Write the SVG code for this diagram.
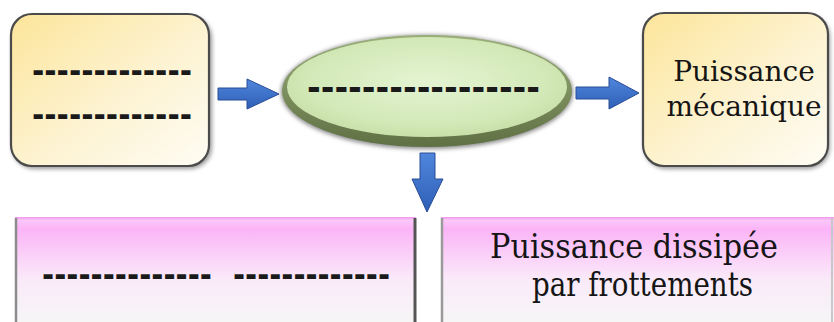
<svg xmlns="http://www.w3.org/2000/svg" width="834" height="322" viewBox="0 0 834 322">
  <style>
    text { font-family: 'DejaVu Serif', serif; }
    .lbl { fill: #151515; font-size: 33px; }
    .mid { text-anchor: middle; font-size: 28px; }
    .dash { fill: #1a1a1a; font-weight: bold; }
    .arrow { fill: url(#blue); stroke: #2a4c96; stroke-width: 1; }
    .ybox { fill: url(#cream); stroke: #4b4b4b; stroke-width: 2.2; }
    .pbox { fill: url(#pink); }
  </style>
  <defs>
    <linearGradient id="cream" x1="0" y1="0" x2="1" y2="1">
      <stop offset="0" stop-color="#fce59a"/>
      <stop offset="0.55" stop-color="#fdf3d2"/>
      <stop offset="1" stop-color="#fefcf4"/>
    </linearGradient>
    <radialGradient id="leaf" cx="0.5" cy="0.45" r="0.6">
      <stop offset="0" stop-color="#e4f4d2"/>
      <stop offset="0.7" stop-color="#d3e9b8"/>
      <stop offset="1" stop-color="#c4dca4"/>
    </radialGradient>
    <linearGradient id="rim" x1="0" y1="0" x2="0" y2="1">
      <stop offset="0" stop-color="#9aae78"/>
      <stop offset="1" stop-color="#5f7044"/>
    </linearGradient>
    <linearGradient id="blue" x1="0" y1="0" x2="0" y2="1">
      <stop offset="0" stop-color="#4f86dc"/>
      <stop offset="1" stop-color="#2f5fb6"/>
    </linearGradient>
    <linearGradient id="pink" gradientUnits="userSpaceOnUse" x1="0" y1="216" x2="0" y2="322">
      <stop offset="0" stop-color="#e88be4"/>
      <stop offset="0.04" stop-color="#fcc8fa"/>
      <stop offset="0.12" stop-color="#fbb4f7"/>
      <stop offset="0.6" stop-color="#faeaf9"/>
      <stop offset="1" stop-color="#f6f6f6"/>
    </linearGradient>
    <filter id="soft" x="-10%" y="-10%" width="120%" height="120%">
      <feGaussianBlur stdDeviation="2"/>
    </filter>
  </defs>

  <rect width="834" height="322" fill="#ffffff"/>

  <!-- source box (top left) -->
  <g id="source">
    <rect x="12" y="16" width="200" height="153" rx="22" fill="#9a9a9a" filter="url(#soft)"/>
    <rect class="ybox" x="11" y="14" width="198" height="152" rx="21"/>
    <text class="dash" x="32" y="82" font-size="36" textLength="160" lengthAdjust="spacingAndGlyphs">-------------</text>
    <text class="dash" x="32" y="126" font-size="36" textLength="160" lengthAdjust="spacingAndGlyphs">-------------</text>
  </g>

  <!-- converter (ellipse) -->
  <g id="converter">
    <ellipse cx="427" cy="92" rx="146" ry="57" fill="#8a8a8a" filter="url(#soft)"/>
    <ellipse cx="427" cy="91" rx="145" ry="56" fill="url(#rim)"/>
    <ellipse cx="427" cy="87" rx="140" ry="50" fill="url(#leaf)"/>
    <text class="dash" x="307" y="100" font-size="38" textLength="233" lengthAdjust="spacingAndGlyphs">-----------------</text>
  </g>

  <!-- output box (top right) -->
  <g id="mechanical">
    <rect x="644" y="15" width="186" height="154" rx="22" fill="#9a9a9a" filter="url(#soft)"/>
    <rect class="ybox" x="643" y="13" width="185" height="153" rx="21"/>
    <text class="lbl mid" x="744" y="81">Puissance</text>
    <text class="lbl mid" x="744" y="116">mécanique</text>
  </g>

  <!-- loss boxes (bottom) -->
  <g id="loss-blank">
    <rect class="pbox" x="15" y="217" width="401" height="110"/>
    <line x1="16" y1="218" x2="16" y2="322" stroke="#8c8c8c" stroke-width="2.5"/>
    <line x1="415" y1="218" x2="415" y2="322" stroke="#555555" stroke-width="3"/>
    <text class="dash" y="286" font-size="36"><tspan x="42" textLength="170" lengthAdjust="spacingAndGlyphs">--------------</tspan><tspan x="233" textLength="157" lengthAdjust="spacingAndGlyphs">-------------</tspan></text>
  </g>

  <g id="loss-friction">
    <rect class="pbox" x="441" y="217" width="395" height="110"/>
    <line x1="442" y1="218" x2="442" y2="322" stroke="#9a9a9a" stroke-width="2.5"/>
    <line x1="832" y1="218" x2="832" y2="322" stroke="#c8c8c8" stroke-width="2"/>
    <text class="lbl" x="490" y="258" textLength="288" lengthAdjust="spacingAndGlyphs">Puissance dissipée</text>
    <text class="lbl" x="532" y="296" textLength="221" lengthAdjust="spacingAndGlyphs">par frottements</text>
  </g>

  <!-- connectors -->
  <g id="connectors">
    <path class="arrow" d="M218,88 H247 V79 L279,94 L247,109 V100 H218 Z"/>
    <path class="arrow" d="M576,87 H609 V77 L639,93 L609,109 V99 H576 Z"/>
    <path class="arrow" d="M420,153 H435 V179 H443 L427,212 L412,179 H420 Z"/>
  </g>
</svg>
